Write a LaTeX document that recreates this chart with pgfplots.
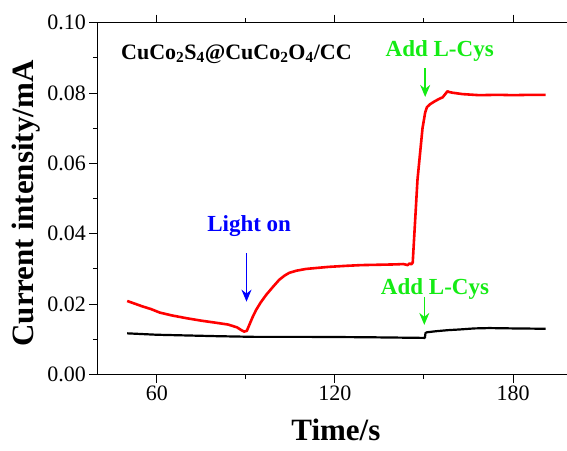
\documentclass[border=0pt]{standalone}
\usepackage{fontspec}
\setmainfont{Liberation Serif}
\usepackage{pgfplots}
\pgfplotsset{compat=1.18}
\usetikzlibrary{arrows.meta}
\definecolor{lgreen}{RGB}{20,235,20}
\begin{document}
\begin{tikzpicture}
\path[use as bounding box] (-97.5pt,-75.5pt) rectangle (469.5pt,374.5pt);
\begin{axis}[
  at={(0,0)}, anchor=south west,
  scale only axis, width=474.9pt, height=351.8pt,
  xmin=40, xmax=200, ymin=0, ymax=0.1,
  xtick={60,120,180}, minor xtick={90,150},
  ytick={0,0.02,0.04,0.06,0.08,0.10}, minor ytick={0.01,0.03,0.05,0.07,0.09},
  tick align=outside, major tick length=8pt, minor tick length=4.5pt,
  every tick/.style={black, line width=1pt},
  axis line style={line width=1.2pt},
  scaled y ticks=false,
  yticklabel style={/pgf/number format/fixed, /pgf/number format/fixed zerofill, /pgf/number format/precision=2},
  /pgf/number format/assume math mode=true,
  tick label style={font=\fontsize{22}{24}\selectfont},
  xlabel={Time/s}, ylabel={Current intensity/mA},
  label style={font=\fontsize{31}{34}\selectfont\bfseries},
  xlabel style={at={(axis description cs:0.502,-0.189)}, anchor=base},
  ylabel style={at={(axis description cs:-0.134,0.486)}, anchor=base},
  clip=false,
]
\addplot[red, line width=2.6pt, line join=round] coordinates {
(50,0.0209) (52,0.0203) (55,0.0194) (58,0.0186) (61,0.0176) (65,0.0168)
(70,0.0160) (75,0.0153) (80,0.0147) (84,0.0142) (87,0.0134) (88.5,0.0126)
(89.4,0.0122) (90.3,0.0124) (91.1,0.0140) (92.2,0.0162) (93.4,0.0183)
(95,0.0205) (96.8,0.0226) (99,0.0248) (101.2,0.0269) (103,0.0281)
(104.6,0.0289) (107,0.0295) (110.2,0.0300) (114,0.0303) (118,0.0306)
(124,0.0309) (129,0.0311) (135,0.0312) (140.5,0.0313) (143,0.0314)
(144.5,0.0311) (145.2,0.0316) (145.7,0.0313) (146.2,0.0318)
(147.8,0.0553) (149.5,0.0700) (150.4,0.0745) (151,0.0760) (152,0.0768)
(153.5,0.0776) (155,0.0783) (156.3,0.0788) (157.9,0.0805) (158.5,0.0803)
(159.6,0.0801) (163,0.0797) (168.6,0.0794) (175,0.0795) (180,0.0794)
(186,0.0795) (191,0.0795)
};
\addplot[black, line width=2.2pt, line join=round] coordinates {
(50,0.0117) (60,0.0113) (70,0.0111) (80,0.0109) (92.8,0.0107) (110,0.0107)
(130,0.0106) (150.3,0.0104) (150.5,0.0118) (151,0.0120) (154,0.0123)
(158,0.0126) (162,0.0128) (167,0.0131) (172,0.0132) (180,0.0131) (191,0.0130)
};
\node[anchor=west, font=\fontsize{22}{24}\selectfont\bfseries, inner sep=0pt] at (axis cs:47.9,0.0911) {CuCo$_{\mathbf 2}$S$_{\mathbf 4}$@CuCo$_{\mathbf 2}$O$_{\mathbf 4}$/CC};
\node[blue, font=\fontsize{23}{25}\selectfont\bfseries, inner sep=0pt] at (axis cs:91.1,0.0422) {Light on};
\draw[blue, line width=1.5pt, -{Stealth[length=12pt,width=10pt]}] (axis cs:90.2,0.0345) -- (axis cs:90.2,0.0207);
\node[lgreen, font=\fontsize{23}{25}\selectfont\bfseries, inner sep=0pt] at (axis cs:155.3,0.0920) {Add L-Cys};
\draw[lgreen, line width=1.5pt, -{Stealth[length=12pt,width=10pt]}] (axis cs:150.4,0.0871) -- (axis cs:150.4,0.0789);
\node[lgreen, font=\fontsize{23}{25}\selectfont\bfseries, inner sep=0pt] at (axis cs:153.7,0.0243) {Add L-Cys};
\draw[lgreen, line width=1.5pt, -{Stealth[length=12pt,width=10pt]}] (axis cs:150.1,0.0221) -- (axis cs:150.1,0.0141);
\end{axis}
\end{tikzpicture}
\end{document}
